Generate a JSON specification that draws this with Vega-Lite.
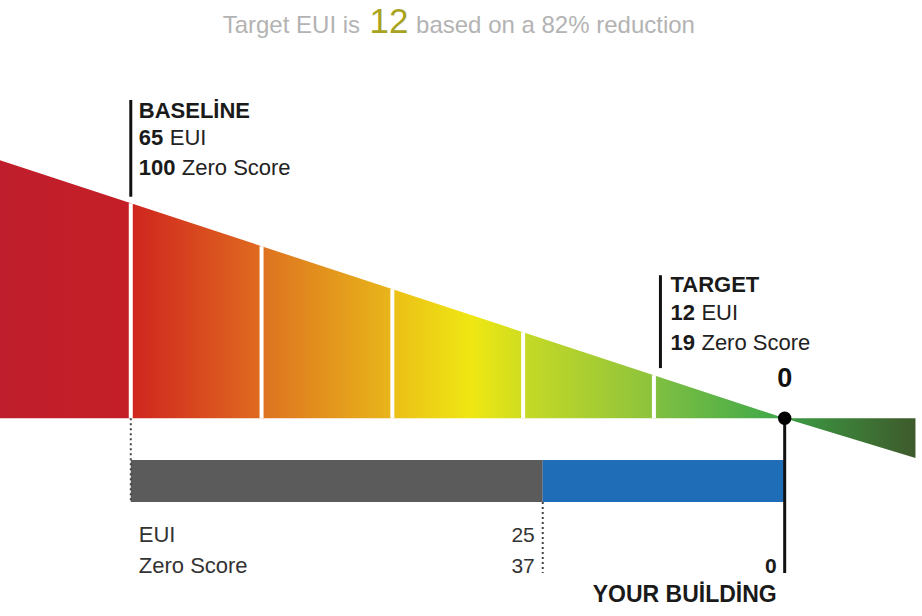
{
  "$schema": "https://vega.github.io/schema/vega-lite/v6.json",
  "width": 922,
  "height": 616,
  "autosize": {"type": "fit", "contains": "padding"},
  "padding": 0,
  "background": "white",
  "config": {
    "view": {"stroke": null},
    "font": "Liberation Sans",
    "mark": {"font": "Liberation Sans"},
    "text": {"font": "Liberation Sans", "baseline": "alphabetic"}
  },
  "datasets": {
    "profile": [
      {"score": 120, "height": 120},
      {"score": 0, "height": 0},
      {"score": -20, "height": -18.5}
    ],
    "bands": [{"score": 100}, {"score": 80}, {"score": 60}, {"score": 40}, {"score": 20}],
    "bars": [
      {"from": 100, "to": 37, "part": "gap"},
      {"from": 37, "to": 0, "part": "building"}
    ]
  },
  "layer": [
    {
      "data": {"name": "profile"},
      "mark": {
        "type": "area",
        "interpolate": "linear",
        "color": {
          "gradient": "linear",
          "x1": 0, "x2": 1, "y1": 0, "y2": 0,
          "stops": [
            {"offset": 0.0, "color": "#bf1e2c"},
            {"offset": 0.14, "color": "#c41f27"},
            {"offset": 0.146, "color": "#d0261f"},
            {"offset": 0.284, "color": "#df6a1f"},
            {"offset": 0.29, "color": "#de7420"},
            {"offset": 0.425, "color": "#e8b41a"},
            {"offset": 0.432, "color": "#ebc017"},
            {"offset": 0.515, "color": "#efe713"},
            {"offset": 0.57, "color": "#d0dd1f"},
            {"offset": 0.575, "color": "#c5d926"},
            {"offset": 0.712, "color": "#8dc33c"},
            {"offset": 0.72, "color": "#7dbf42"},
            {"offset": 0.853, "color": "#3fa84a"},
            {"offset": 0.858, "color": "#3b9c44"},
            {"offset": 1.0, "color": "#3e5a2b"}
          ]
        }
      },
      "encoding": {
        "x": {"field": "score", "type": "quantitative", "axis": null, "scale": {"domain": [120, -21], "nice": false, "zero": false}},
        "y": {"field": "height", "type": "quantitative", "axis": null, "scale": {"domain": [-92, 194.5], "nice": false, "zero": false}},
        "y2": {"datum": 0}
      }
    },
    {
      "data": {"name": "bands"},
      "mark": {"type": "rule", "color": "white", "strokeWidth": 4},
      "encoding": {
        "x": {"field": "score", "type": "quantitative"},
        "y": {"field": "score", "type": "quantitative"},
        "y2": {"datum": 0}
      }
    },
    {
      "data": {"name": "bars"},
      "mark": {"type": "bar"},
      "encoding": {
        "x": {"field": "from", "type": "quantitative"},
        "x2": {"field": "to"},
        "y": {"datum": -19.5, "type": "quantitative"},
        "y2": {"datum": -39},
        "color": {"field": "part", "type": "nominal", "legend": null, "scale": {"domain": ["gap", "building"], "range": ["#5b5b5b", "#1f6db6"]}}
      }
    },
    {
      "data": {"values": [{}]},
      "mark": {"type": "rule", "color": "#444444", "strokeWidth": 2, "strokeDash": [2, 3]},
      "encoding": {"x": {"datum": 100, "type": "quantitative"}, "y": {"datum": 0, "type": "quantitative"}, "y2": {"datum": -39}}
    },
    {
      "data": {"values": [{}]},
      "mark": {"type": "rule", "color": "#444444", "strokeWidth": 2, "strokeDash": [2, 3]},
      "encoding": {"x": {"datum": 37, "type": "quantitative"}, "y": {"datum": -39, "type": "quantitative"}, "y2": {"datum": -72}}
    },
    {
      "data": {"values": [{}]},
      "mark": {"type": "rule", "color": "#111111", "strokeWidth": 3},
      "encoding": {"x": {"datum": 100, "type": "quantitative"}, "y": {"datum": 103, "type": "quantitative"}, "y2": {"datum": 148}}
    },
    {
      "data": {"values": [{}]},
      "mark": {"type": "rule", "color": "#111111", "strokeWidth": 3},
      "encoding": {"x": {"datum": 19, "type": "quantitative"}, "y": {"datum": 23.3, "type": "quantitative"}, "y2": {"datum": 66.5}}
    },
    {
      "data": {"values": [{}]},
      "mark": {"type": "rule", "color": "#111111", "strokeWidth": 3},
      "encoding": {"x": {"datum": 0, "type": "quantitative"}, "y": {"datum": 0, "type": "quantitative"}, "y2": {"datum": -72}}
    },
    {
      "data": {"values": [{}]},
      "mark": {"type": "point", "filled": true, "color": "#000000", "size": 180, "opacity": 1},
      "encoding": {"x": {"datum": 0, "type": "quantitative"}, "y": {"datum": 0, "type": "quantitative"}}
    },
    {
      "data": {"values": [{}]},
      "mark": {"type": "text", "text": "Target EUI is", "align": "right", "fontSize": 24, "color": "#b3b3b3", "dx": -29},
      "encoding": {"x": {"datum": 60.5, "type": "quantitative"}, "y": {"datum": 179, "type": "quantitative"}}
    },
    {
      "data": {"values": [{}]},
      "mark": {"type": "text", "text": "12", "align": "center", "fontSize": 35, "color": "#a9a21c"},
      "encoding": {"x": {"datum": 60.5, "type": "quantitative"}, "y": {"datum": 179, "type": "quantitative"}}
    },
    {
      "data": {"values": [{}]},
      "mark": {"type": "text", "text": "based on a 82% reduction", "align": "left", "fontSize": 24, "color": "#b3b3b3", "dx": 27},
      "encoding": {"x": {"datum": 60.5, "type": "quantitative"}, "y": {"datum": 179, "type": "quantitative"}}
    },
    {
      "data": {"values": [{}]},
      "mark": {"type": "text", "text": "BASELİNE", "align": "left", "fontSize": 22, "fontWeight": "bold", "color": "#1a1a1a", "dx": 8},
      "encoding": {"x": {"datum": 100, "type": "quantitative"}, "y": {"datum": 139.5, "type": "quantitative"}}
    },
    {
      "data": {"values": [{}]},
      "mark": {"type": "text", "text": "65", "align": "left", "fontSize": 22, "fontWeight": "bold", "color": "#1a1a1a", "dx": 8},
      "encoding": {"x": {"datum": 100, "type": "quantitative"}, "y": {"datum": 127, "type": "quantitative"}}
    },
    {
      "data": {"values": [{}]},
      "mark": {"type": "text", "text": "EUI", "align": "left", "fontSize": 22, "color": "#222222", "dx": 39},
      "encoding": {"x": {"datum": 100, "type": "quantitative"}, "y": {"datum": 127, "type": "quantitative"}}
    },
    {
      "data": {"values": [{}]},
      "mark": {"type": "text", "text": "100", "align": "left", "fontSize": 22, "fontWeight": "bold", "color": "#1a1a1a", "dx": 8},
      "encoding": {"x": {"datum": 100, "type": "quantitative"}, "y": {"datum": 113, "type": "quantitative"}}
    },
    {
      "data": {"values": [{}]},
      "mark": {"type": "text", "text": "Zero Score", "align": "left", "fontSize": 22, "color": "#222222", "dx": 51},
      "encoding": {"x": {"datum": 100, "type": "quantitative"}, "y": {"datum": 113, "type": "quantitative"}}
    },
    {
      "data": {"values": [{}]},
      "mark": {"type": "text", "text": "TARGET", "align": "left", "fontSize": 22, "fontWeight": "bold", "color": "#1a1a1a", "dx": 10},
      "encoding": {"x": {"datum": 19, "type": "quantitative"}, "y": {"datum": 58.6, "type": "quantitative"}}
    },
    {
      "data": {"values": [{}]},
      "mark": {"type": "text", "text": "12", "align": "left", "fontSize": 22, "fontWeight": "bold", "color": "#1a1a1a", "dx": 10},
      "encoding": {"x": {"datum": 19, "type": "quantitative"}, "y": {"datum": 45.6, "type": "quantitative"}}
    },
    {
      "data": {"values": [{}]},
      "mark": {"type": "text", "text": "EUI", "align": "left", "fontSize": 22, "color": "#222222", "dx": 41},
      "encoding": {"x": {"datum": 19, "type": "quantitative"}, "y": {"datum": 45.6, "type": "quantitative"}}
    },
    {
      "data": {"values": [{}]},
      "mark": {"type": "text", "text": "19", "align": "left", "fontSize": 22, "fontWeight": "bold", "color": "#1a1a1a", "dx": 10},
      "encoding": {"x": {"datum": 19, "type": "quantitative"}, "y": {"datum": 31.6, "type": "quantitative"}}
    },
    {
      "data": {"values": [{}]},
      "mark": {"type": "text", "text": "Zero Score", "align": "left", "fontSize": 22, "color": "#222222", "dx": 41},
      "encoding": {"x": {"datum": 19, "type": "quantitative"}, "y": {"datum": 31.6, "type": "quantitative"}}
    },
    {
      "data": {"values": [{}]},
      "mark": {"type": "text", "text": "0", "align": "center", "fontSize": 27, "fontWeight": "bold", "color": "#111111"},
      "encoding": {"x": {"datum": 0, "type": "quantitative"}, "y": {"datum": 14.4, "type": "quantitative"}}
    },
    {
      "data": {"values": [{}]},
      "mark": {"type": "text", "text": "EUI", "align": "left", "fontSize": 22, "color": "#333333", "dx": 8},
      "encoding": {"x": {"datum": 100, "type": "quantitative"}, "y": {"datum": -57.7, "type": "quantitative"}}
    },
    {
      "data": {"values": [{}]},
      "mark": {"type": "text", "text": "Zero Score", "align": "left", "fontSize": 22, "color": "#333333", "dx": 8},
      "encoding": {"x": {"datum": 100, "type": "quantitative"}, "y": {"datum": -72.1, "type": "quantitative"}}
    },
    {
      "data": {"values": [{}]},
      "mark": {"type": "text", "text": "25", "align": "right", "fontSize": 21, "color": "#333333", "dx": -8},
      "encoding": {"x": {"datum": 37, "type": "quantitative"}, "y": {"datum": -57.7, "type": "quantitative"}}
    },
    {
      "data": {"values": [{}]},
      "mark": {"type": "text", "text": "37", "align": "right", "fontSize": 21, "color": "#333333", "dx": -8},
      "encoding": {"x": {"datum": 37, "type": "quantitative"}, "y": {"datum": -72.1, "type": "quantitative"}}
    },
    {
      "data": {"values": [{}]},
      "mark": {"type": "text", "text": "0", "align": "right", "fontSize": 21, "fontWeight": "bold", "color": "#1a1a1a", "dx": -8},
      "encoding": {"x": {"datum": 0, "type": "quantitative"}, "y": {"datum": -72.1, "type": "quantitative"}}
    },
    {
      "data": {"values": [{}]},
      "mark": {"type": "text", "text": "YOUR BUİLDİNG", "align": "right", "fontSize": 23, "fontWeight": "bold", "color": "#1a1a1a", "dx": -8},
      "encoding": {"x": {"datum": 0, "type": "quantitative"}, "y": {"datum": -85.6, "type": "quantitative"}}
    }
  ]
}
